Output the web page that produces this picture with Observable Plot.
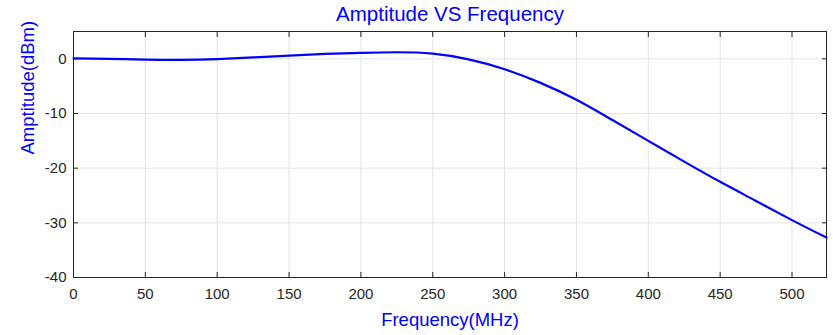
<!DOCTYPE html>
<html><head><meta charset="utf-8">
<script src="https://cdn.jsdelivr.net/npm/d3@7"></script>
<script src="https://cdn.jsdelivr.net/npm/@observablehq/plot@0.6"></script>
<style>
body{margin:0;background:#fff;}
svg{font-family:"Liberation Sans",Arial,sans-serif;}
svg g[aria-label$="tick label"]{font-size:15px !important;}
svg g[aria-label$="tick label"] text{font-size:15px !important;}
</style></head>
<body><div id="chart"></div>
<script>
const frequency = [0,25,50,75,100,125,150,175,200,225,250,275,300,325,350,375,400,425,450,475,500,524];
const amplitude = [0.1,0.0,-0.15,-0.2,-0.05,0.25,0.6,0.9,1.1,1.2,0.95,-0.1,-1.9,-4.4,-7.5,-11.2,-15.0,-18.8,-22.5,-26.0,-29.5,-32.7];
const xTicks = [0,50,100,150,200,250,300,350,400,450,500];
const yTicks = [-40,-30,-20,-10,0];
const title = "Amptitude VS Frequency";
const xLabel = "Frequency(MHz)";
const yLabel = "Amptitude(dBm)";

const data = frequency.map((f,i)=>({f, a: amplitude[i]}));
const axisColor = "#262626";
const blue = "#0000ff";
const fmt = d => String(d);

const chart = Plot.plot({
  width: 833, height: 335,
  marginLeft: 73, marginRight: 7, marginTop: 31, marginBottom: 58,
  style: {fontSize: "15px", color: axisColor, background: "#fff"},
  x: {domain: [0, 524]},
  y: {domain: [-40, 5]},
  marks: [
    Plot.gridX(xTicks, {stroke: "#e3e3e3", strokeOpacity: 1}),
    Plot.gridY(yTicks, {stroke: "#e3e3e3", strokeOpacity: 1}),
    Plot.frame({stroke: axisColor, strokeWidth: 1}),
    Plot.axisX(xTicks, {anchor: "bottom", tickSize: 0, tickPadding: 11, fontSize: 15, tickFormat: fmt, label: null, fill: axisColor}),
    Plot.axisX(xTicks, {anchor: "bottom", tickSize: -5, tickFormat: () => "", label: null, stroke: axisColor}),
    Plot.axisX(xTicks, {anchor: "top", tickSize: -5, tickFormat: () => "", label: null, stroke: axisColor}),
    Plot.axisY(yTicks, {anchor: "left", tickSize: 0, tickPadding: 7, fontSize: 15, tickFormat: fmt, label: null, fill: axisColor}),
    Plot.axisY(yTicks, {anchor: "left", tickSize: -5, tickFormat: () => "", label: null, stroke: axisColor}),
    Plot.axisY(yTicks, {anchor: "right", tickSize: -5, tickFormat: () => "", label: null, stroke: axisColor}),
    Plot.line(data, {x: "f", y: "a", stroke: blue, strokeWidth: 2.2, curve: "natural"}),
    Plot.text([title], {frameAnchor: "top", lineAnchor: "middle", dy: -17, fill: blue, fontSize: 20.5, text: d => d}),
    Plot.text([xLabel], {frameAnchor: "bottom", lineAnchor: "middle", dy: 43, fill: blue, fontSize: 18.5, text: d => d}),
    Plot.text([yLabel], {frameAnchor: "left", dx: -45, rotate: -90, fill: blue, fontSize: 18.5, text: d => d})
  ]
});
document.getElementById("chart").appendChild(chart);
</script>
</body></html>
